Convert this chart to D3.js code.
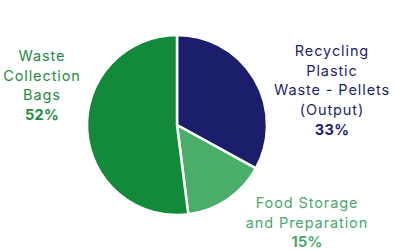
<!DOCTYPE html>
<html>
<head>
<meta charset="utf-8">
<script src="https://cdn.jsdelivr.net/npm/d3@7"></script>
<style>
  html, body { margin: 0; padding: 0; background: #fff; }
  svg { display: block; }
  text { font-family: Inter, "Open Sans", sans-serif; }
</style>
</head>
<body>
<svg id="chart" width="395" height="251"></svg>
<script>
// slice data, clockwise from 12 o'clock
const categories = [
    ['Recycling', 'Plastic', 'Waste - Pellets', '(Output)'],
    ['Food Storage', 'and Preparation'],
    ['Waste', 'Collection', 'Bags']
];
const shares = [33, 15, 52];
const colors = ['#1b1f6b', '#4aad6a', '#138a3a'];
const labelColors = ['#1b1f6b', '#4aa86a', '#1e8c3f'];

// label anchor (centre x, first baseline y) for each slice
const labelPos = [
    { x: 332, y: 56 },
    { x: 307, y: 208 },
    { x: 42, y: 61 }
];
const lineHeight = 19.7;

const svg = d3.select('#chart');
const cx = 177, cy = 125, radius = 90;

const pie = d3.pie().sort(null).value(d => d);
const arc = d3.arc().innerRadius(0).outerRadius(radius);

const g = svg.append('g').attr('transform', `translate(${cx},${cy})`);

g.selectAll('path')
    .data(pie(shares))
    .enter()
    .append('path')
    .attr('d', arc)
    .attr('fill', (d, i) => colors[i])
    .attr('stroke', '#fff')
    .attr('stroke-width', 2.5)
    .attr('stroke-linejoin', 'round');

// labels
categories.forEach((lines, i) => {
    const t = svg.append('text')
        .attr('x', labelPos[i].x)
        .attr('y', labelPos[i].y)
        .attr('text-anchor', 'middle')
        .attr('fill', labelColors[i])
        .attr('font-size', '14.5px')
        .attr('letter-spacing', '0.9px');

    lines.forEach((line, j) => {
        t.append('tspan')
            .attr('x', labelPos[i].x)
            .attr('dy', j === 0 ? 0 : lineHeight)
            .text(line);
    });

    t.append('tspan')
        .attr('x', labelPos[i].x)
        .attr('dy', lineHeight)
        .attr('font-weight', 700)
        .attr('letter-spacing', '0.3px')
        .text(d3.format('d')(shares[i]) + '%');
});
</script>
</body>
</html>
